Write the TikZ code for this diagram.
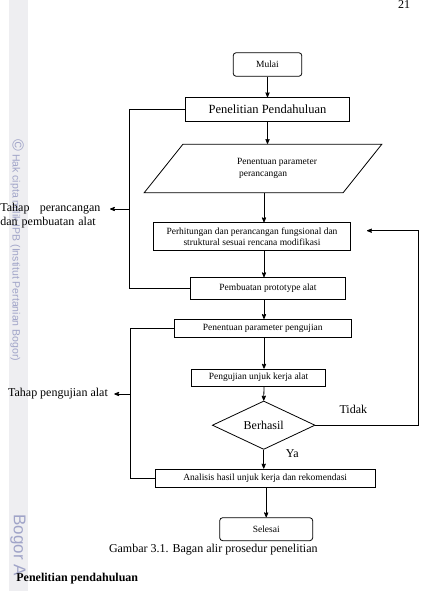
\documentclass[tikz,border=0pt]{standalone}
\usepackage{fontspec}
\setmainfont{Liberation Serif}
\setsansfont{Liberation Sans}
\usetikzlibrary{arrows,shapes}
\definecolor{wmark}{RGB}{160,164,200}
\definecolor{strip}{RGB}{238,238,241}

\begin{document}
\begin{tikzpicture}[x=1pt,y=-1pt,>=stealth',line width=0.8pt]
    \tikzstyle{place}=[rectangle,draw,inner sep=0pt,align=center,font=\fontsize{9.5}{11}\selectfont]
    \tikzstyle{term}=[place,rounded corners=3pt]
    \tikzstyle{io}=[trapezium,draw,trapezium left angle=39.4,trapezium right angle=140.6,trapezium stretches=true,inner sep=1pt,align=left,font=\fontsize{9.5}{11.5}\selectfont]
    \tikzstyle{decide}=[diamond,draw,inner sep=0pt,font=\fontsize{12}{14}\selectfont]
    \tikzstyle{note}=[inner sep=0pt,font=\fontsize{12}{14}\selectfont]

    \useasboundingbox (0,0) rectangle (424,591);
    \clip (0,0) rectangle (424,591);

    % watermark strip of the scanned page
    \fill [strip] (9,0) rectangle (28,591);
    \node [rotate=-90, anchor=west, inner sep=0pt, text=wmark, font=\sffamily\fontsize{10.5}{12}\selectfont] at (17,139) (hakcipta) {{\fontsize{16}{16}\selectfont\textcopyright}\ Hak cipta milik IPB (Institut Pertanian Bogor)};
    \node [rotate=-90, anchor=west, inner sep=0pt, text=wmark, font=\sffamily\fontsize{17}{20}\selectfont] at (18,514) (bogor) {Bogor A};

    \node [note, anchor=north] at (404,0.5) (halaman) {21};

    \begin{scope}
      \node [term, minimum width=68.6, minimum height=23.6] at (267.5,64.5) (mulai) {Mulai};
      \node [place, minimum width=164, minimum height=23.3, font=\fontsize{12.5}{14}\selectfont] at (267.5,109.3) (pendahuluan) {Penelitian Pendahuluan};
      \node [io, minimum width=237.7, minimum height=48.4] at (263,168.5) (param) {\hspace*{28pt}Penentuan parameter\\\hspace*{30pt}perancangan};
      \node [place, minimum width=197.3, minimum height=28] at (252,236.7) (hitung) {Perhitungan dan perancangan fungsional dan\\ struktural sesuai rencana modifikasi};
      \node [place, minimum width=154.7, minimum height=21.3] at (268,288.3) (prototipe) {Pembuatan prototype alat};
      \node [place, minimum width=177.7, minimum height=18.3] at (262.8,328.5) (paramuji) {Penentuan parameter pengujian};
      \node [place, minimum width=134.3, minimum height=17.3] at (258.5,377.7) (uji) {Pengujian unjuk kerja alat};
      \node [decide, minimum width=102.7, minimum height=35.7] at (263.7,425.2) (berhasil) {Berhasil};
      \node [place, minimum width=219.7, minimum height=18.7] at (265.2,478.3) (analisis) {Analisis hasil unjuk kerja dan rekomendasi};
      \node [term, minimum width=93, minimum height=23] at (266.2,529.2) (selesai) {Selesai};

      \node [note] at (353.3,409.3) (tidak) {Tidak};
      \node [note] at (292.3,454) (ya) {Ya};

      \node [note, anchor=north west, text width=100, align=left] at (0,202.5) (tahap1) {Tahap\hfill perancangan\\dan pembuatan alat};
      \node [note, anchor=west] at (7.7,394) (tahap2) {Tahap pengujian alat};

      \coordinate (kolom) at (264,0);
      \coordinate (kiri1) at (129.3,209);
      \coordinate (kiri2) at (130.7,394);
      \coordinate (panah1) at (110,209);
      \coordinate (panah2) at (114.3,394);
      \coordinate (balik) at (418.3,230.7);
      \coordinate (balikujung) at (367,230.7);

      \draw [->] (mulai) -- (pendahuluan);
      \draw [->] (pendahuluan) -- (pendahuluan |- param.north);
      \draw [->] (param.south -| kolom) -- (hitung.north -| kolom);
      \draw [->] (hitung.south -| kolom) -- (prototipe.north -| kolom);
      \draw [->] (prototipe.south -| kolom) -- (paramuji.north -| kolom);
      \draw [->] (paramuji.south -| kolom) -- (uji.north -| kolom);
      \draw [->] (uji.south -| kolom) -- (berhasil.north);
      \draw [->] (berhasil) -- (berhasil |- analisis.north);
      \draw [->] (analisis.south -| selesai) -- (selesai);

      % back to the design step
      \draw [->] (berhasil.east) -| (balik) -- (balikujung);

      % stage brackets
      \draw (pendahuluan.west) -| (kiri1) |- (prototipe.west);
      \draw [->] (kiri1) -- (panah1);
      \draw (paramuji.west) -| (kiri2) |- (analisis.west);
      \draw [->] (kiri2) -- (panah2);
    \end{scope}

    \node [note] at (213.3,550) (judul) {Gambar 3.1. Bagan alir prosedur penelitian};
    \node [note, anchor=west, font=\fontsize{12}{14}\selectfont\bfseries] at (16,578.3) (subjudul) {Penelitian pendahuluan};
\end{tikzpicture}
\end{document}
